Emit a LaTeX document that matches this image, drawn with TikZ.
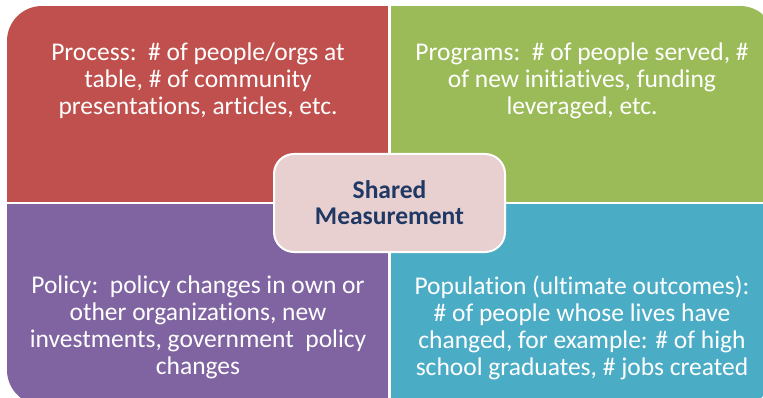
\documentclass[tikz,border=0pt]{standalone}
\usepackage{fontspec}
\setmainfont{Carlito}[Ligatures=NoCommon]
\usepackage{xcolor}
\usetikzlibrary{positioning}

\definecolor{procred}{HTML}{C0504D}
\definecolor{proggreen}{HTML}{9BBB59}
\definecolor{polpurple}{HTML}{8064A2}
\definecolor{popblue}{HTML}{4BACC6}
\definecolor{hubpink}{HTML}{E8D0D0}
\definecolor{hubnavy}{HTML}{1F3864}

\tikzset{
  qtext/.style={align=center,text=white,inner sep=0pt,
    font=\fontsize{25.5}{27}\selectfont},
  hub/.style={rectangle,rounded corners=20pt,fill=hubpink,draw=white,
    line width=2pt,minimum width=231pt,minimum height=98pt,align=center,
    text=hubnavy,font=\fontsize{25.5}{26}\selectfont\bfseries}
}

\begin{document}
\begin{tikzpicture}[x=1pt,y=-1pt]
    \fill[white] (0,0) rectangle (763,398);
    \useasboundingbox (0,0) rectangle (763,398);

    % Quadrants
    \begin{scope}
        \clip[rounded corners=35pt] (7,6) rectangle (775,405);
        \fill[procred] (7,6) rectangle (388,202);
        \fill[proggreen] (391,6) rectangle (775,202);
        \fill[polpurple] (7,204) rectangle (388,405);
        \fill[popblue] (391,204) rectangle (775,405);
    \end{scope}

    % Quadrant texts
    \node[qtext] (process) at (198,81) {Process:\ \ \# of people/orgs at\\table, \# of community\\presentations, articles, etc.};
    \node[qtext] (programs) at (582,81) {Programs:\ \ \# of people served, \#\\of new initiatives, funding\\leveraged, etc.};
    \node[qtext] (policy) at (198,327.5) {Policy:\ \ policy changes in own or\\other organizations, new\\investments, government\ \ policy\\changes};
    \node[qtext] (population) at (582,327.5) {Population (ultimate outcomes):\\\# of people whose lives have\\changed, for example: \# of high\\school graduates, \# jobs created};

    % Hub
    \node[hub] (shared) at (389.5,203) {Shared\\Measurement};
\end{tikzpicture}
\end{document}
